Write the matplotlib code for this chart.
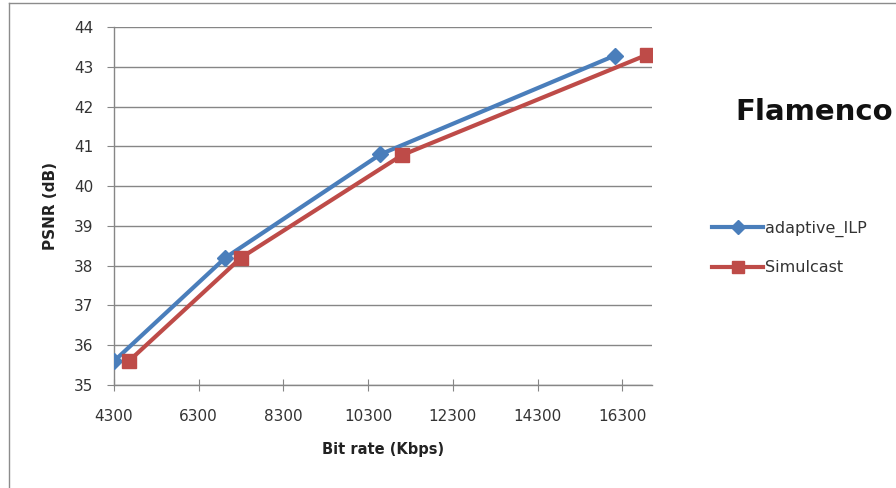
import matplotlib
matplotlib.use("Agg")
import matplotlib.pyplot as plt
from matplotlib.lines import Line2D

plt.rcParams['font.family'] = ['DejaVu Sans']

# Rate-distortion points
adaptive_rate = [4300, 6930, 10590, 16120]
adaptive_psnr = [35.6, 38.2, 40.8, 43.28]
simulcast_rate = [4650, 7300, 11100, 16880]
simulcast_psnr = [35.6, 38.2, 40.78, 43.3]

x_ticks = [4300, 6300, 8300, 10300, 12300, 14300, 16300]
y_ticks = [35, 36, 37, 38, 39, 40, 41, 42, 43, 44]

blue = '#4A7EBB'
red = '#BE4B48'
grid_c = '#868686'

fig = plt.figure(figsize=(8.96, 4.88), dpi=100)
ax = fig.add_axes([114/896, 1-385/488, (652-114)/896, (385-27)/488])

ax.plot(adaptive_rate, adaptive_psnr, color=blue, lw=3.0, marker='D', ms=8,
        markerfacecolor=blue, markeredgecolor=blue, label='adaptive_ILP', zorder=3)
ax.plot(simulcast_rate, simulcast_psnr, color=red, lw=3.0, marker='s', ms=10,
        markerfacecolor=red, markeredgecolor=red, label='Simulcast', zorder=4)

ax.set_xlim(4300, 17000)
ax.set_ylim(35, 44)
ax.set_xticks(x_ticks)
ax.set_yticks(y_ticks)
ax.yaxis.grid(True, color=grid_c, lw=1.0)
ax.set_axisbelow(True)
for s in ['top', 'right']:
    ax.spines[s].set_visible(False)
for s in ['left', 'bottom']:
    ax.spines[s].set_color(grid_c)
    ax.spines[s].set_linewidth(1.0)
ax.tick_params(axis='x', direction='inout', length=9, color=grid_c, labelsize=11,
               labelcolor='#333333', pad=13)
ax.tick_params(axis='y', direction='out', length=5, color=grid_c, labelsize=11,
               labelcolor='#333333', pad=10)
ax.set_xlabel('Bit rate (Kbps)', fontsize=10.5, fontweight='bold', color='#222222', labelpad=13)
ax.set_ylabel('PSNR (dB)', fontsize=11, fontweight='bold', color='#222222', labelpad=11)

fig.text(814/896, 1-112/488, 'Flamenco', fontsize=21, fontweight='bold',
         ha='center', va='center', color='#111111')

leg = fig.legend(handles=ax.get_lines(), loc='upper left',
                 bbox_to_anchor=(712/896, 1-221/488), frameon=False,
                 fontsize=11.5, handlelength=3.2, labelspacing=1.45,
                 handletextpad=0.1, borderaxespad=0, borderpad=0,
                 markerscale=0.85)
for t in leg.get_texts():
    t.set_color('#333333')

# Outer chart frame
frame_c = '#8c8c8c'
fig.add_artist(Line2D([9/896, 9/896], [0, 1-3/488], transform=fig.transFigure,
                      color=frame_c, lw=1.0))
fig.add_artist(Line2D([9/896, 1], [1-3/488, 1-3/488], transform=fig.transFigure,
                      color=frame_c, lw=1.0))

fig.savefig('out.png', dpi=100, facecolor='white')
